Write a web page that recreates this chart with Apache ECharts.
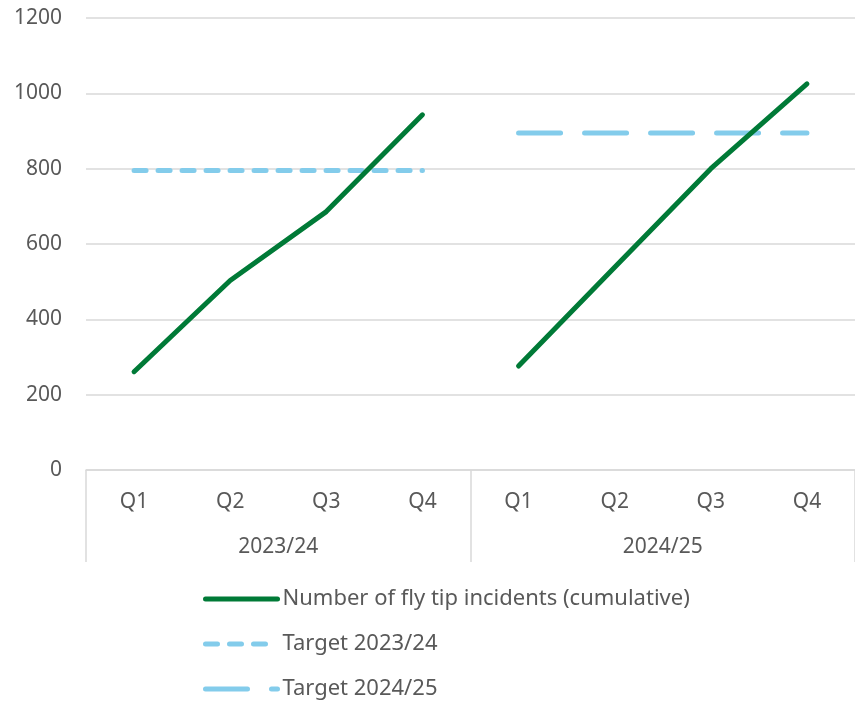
<!DOCTYPE html>
<html>
<head>
<meta charset="utf-8">
<script src="https://cdn.jsdelivr.net/npm/echarts@6/dist/echarts.min.js"></script>
<style>html,body{margin:0;padding:0;background:#fff}#c{width:855px;height:721px}</style>
</head>
<body>
<div id="c"></div>
<script>
var quarters = ['Q1','Q2','Q3','Q4','Q1','Q2','Q3','Q4'];
var years = ['2023/24','2024/25'];
var yTicks = [0,200,400,600,800,1000,1200];
var incidents2324 = [261, 503, 686, 943, null, null, null, null];
var incidents2425 = [null, null, null, null, 276, 538, 800, 1025];
var target2324 = [795, 795, 795, 795, null, null, null, null];
var target2425 = [null, null, null, null, 895, 895, 895, 895];

var FONT = 'Noto Sans';
var TXT = '#595959';
var GRID = '#d9d9d9';
var GREEN = '#007A37';
var BLUE = '#83CCEB';
var NAME = 'Number of fly tip incidents (cumulative)';
var chart = echarts.init(document.getElementById('c'));
chart.setOption({
  animation: false,
  textStyle: {fontFamily: FONT},
  grid: {left: 86, right: 0, top: 18, bottom: 251},
  xAxis: [{
    type: 'category', data: quarters, position: 'bottom', boundaryGap: true,
    axisLine: {show: true, lineStyle: {color: GRID, width: 1.5}},
    axisTick: {show: false},
    axisLabel: {color: TXT, fontSize: 21, margin: 22, fontFamily: FONT}
  }, {
    type: 'category', data: years, position: 'bottom', boundaryGap: true,
    axisLine: {show: false},
    axisTick: {show: true, length: 92, inside: false, lineStyle: {color: GRID, width: 1.5}},
    axisLabel: {color: TXT, fontSize: 21, margin: 67, fontFamily: FONT}
  }],
  yAxis: {
    type: 'value', min: yTicks[0], max: yTicks[yTicks.length-1], interval: 200,
    axisLine: {show: false}, axisTick: {show: false},
    splitLine: {lineStyle: {color: GRID, width: 1.5}},
    axisLabel: {color: TXT, fontSize: 21, margin: 24, fontFamily: FONT,
      formatter: function (v) { return String(v); }}
  },
  legend: {
    orient: 'vertical', left: 203, top: 588, padding: 0, itemGap: 23, itemWidth: 72, itemHeight: 20,
    textStyle: {color: TXT, fontSize: 22, fontFamily: FONT},
    itemStyle: {opacity: 0},
    lineStyle: {width: 5, cap: 'round'},
    data: [NAME, 'Target 2023/24', 'Target 2024/25']
  },
  series: [{
    name: NAME, type: 'line', data: incidents2324,
    symbol: 'none', showSymbol: false, connectNulls: false,
    lineStyle: {color: GREEN, width: 5, cap: 'round', join: 'round'},
    itemStyle: {color: GREEN}, z: 3
  }, {
    name: NAME, type: 'line', data: incidents2425,
    symbol: 'none', showSymbol: false, connectNulls: false,
    lineStyle: {color: GREEN, width: 5, cap: 'round', join: 'round'},
    itemStyle: {color: GREEN}, z: 3
  }, {
    name: 'Target 2023/24', type: 'line', data: target2324,
    symbol: 'none', showSymbol: false,
    lineStyle: {color: BLUE, width: 5, type: [12, 12], cap: 'round'},
    itemStyle: {color: BLUE}, z: 2
  }, {
    name: 'Target 2024/25', type: 'line', data: target2425,
    symbol: 'none', showSymbol: false,
    lineStyle: {color: BLUE, width: 5, type: [42, 24], cap: 'round'},
    itemStyle: {color: BLUE}, z: 2
  }]
});
</script>
</body>
</html>
